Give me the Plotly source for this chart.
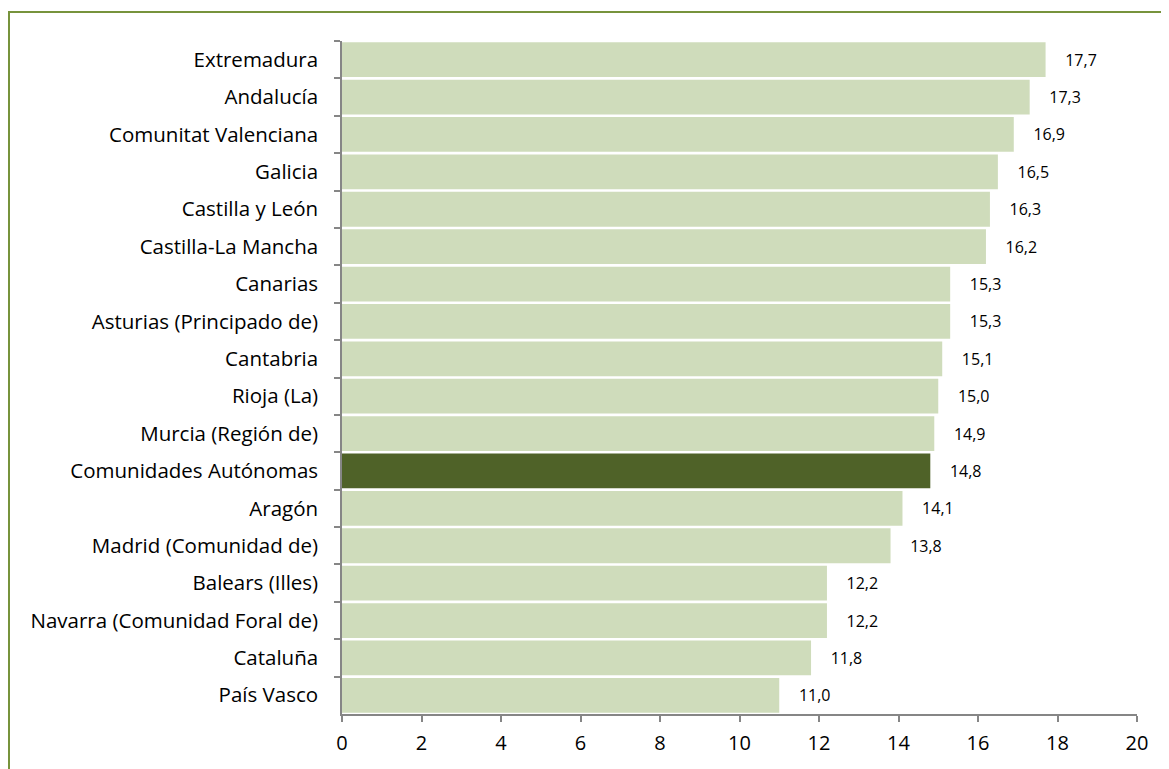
import plotly.graph_objects as go

categories = [
    "Extremadura", "Andalucía", "Comunitat Valenciana", "Galicia",
    "Castilla y León", "Castilla-La Mancha", "Canarias",
    "Asturias (Principado de)", "Cantabria", "Rioja (La)",
    "Murcia (Región de)", "Comunidades Autónomas", "Aragón",
    "Madrid (Comunidad de)", "Balears (Illes)",
    "Navarra (Comunidad Foral de)", "Cataluña", "País Vasco",
]
values = [17.7, 17.3, 16.9, 16.5, 16.3, 16.2, 15.3, 15.3, 15.1, 15.0,
          14.9, 14.8, 14.1, 13.8, 12.2, 12.2, 11.8, 11.0]
highlight = "Comunidades Autónomas"
x_ticks = [0, 2, 4, 6, 8, 10, 12, 14, 16, 18, 20]

LIGHT = "#CFDCBB"
DARK = "#4F6228"
colors = [DARK if c == highlight else LIGHT for c in categories]
labels = ["    " + f"{v:.1f}".replace(".", ",") for v in values]

FONT = "Open Sans, sans-serif"

# page body has an 8px margin; figure is sized to fill the remaining viewport
W, H = 1161, 761
L, R, T, B = 334, 1129, 33, 706

fig = go.Figure(go.Bar(
    x=values, y=categories, orientation="h",
    marker=dict(color=colors, line=dict(width=0)),
    text=labels, textposition="outside", cliponaxis=False,
    textfont=dict(size=16, color="#000000", family=FONT),
    hoverinfo="skip",
))

def px_to_paper_x(px):
    return (px - L) / (R - L)

def px_to_paper_y(py):
    return (B - py) / (B - T)

border = "#77933C"
fig.add_shape(type="line", xref="paper", yref="paper",
              x0=px_to_paper_x(1), x1=px_to_paper_x(1),
              y0=px_to_paper_y(4), y1=px_to_paper_y(800),
              line=dict(color=border, width=2))
fig.add_shape(type="line", xref="paper", yref="paper",
              x0=px_to_paper_x(0), x1=px_to_paper_x(1200),
              y0=px_to_paper_y(4), y1=px_to_paper_y(4),
              line=dict(color=border, width=2))

fig.update_layout(
    width=W, height=H,
    margin=dict(l=L, r=W - R, t=T, b=H - B, pad=0),
    paper_bgcolor="white", plot_bgcolor="white",
    bargap=0.07, showlegend=False,
    font=dict(family=FONT, size=20, color="#000000"),
    xaxis=dict(range=[0, 20], tickvals=x_ticks, ticktext=[str(t) for t in x_ticks],
               showgrid=False, zeroline=False, showline=True,
               linecolor="#868686", linewidth=1.5, ticks="outside",
               tickcolor="#868686", ticklen=6, tickwidth=1.5,
               tickfont=dict(size=20), ticklabelstandoff=4),
    yaxis=dict(autorange="reversed", showgrid=False, zeroline=False,
               showline=True, linecolor="#868686", linewidth=1.5,
               ticks="outside", tickson="boundaries", tickcolor="#868686",
               ticklen=6, tickwidth=1.5, tickfont=dict(size=20.5),
               ticklabelstandoff=18),
)

fig.write_html("out.html")
